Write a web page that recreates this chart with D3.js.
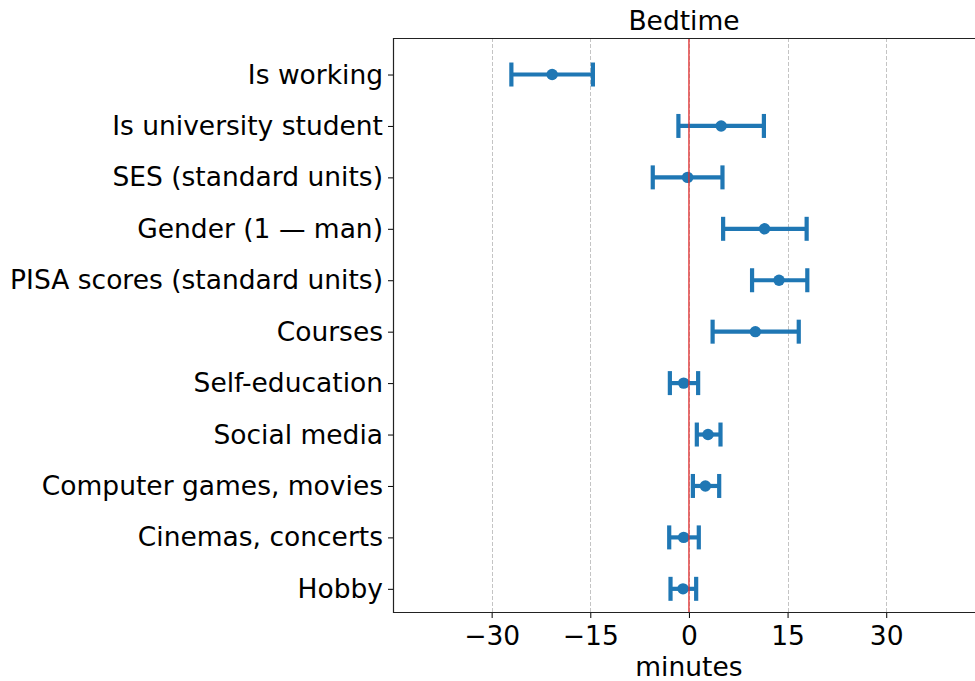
<!DOCTYPE html>
<html><head><meta charset="utf-8">
<script src="https://cdn.jsdelivr.net/npm/d3@7"></script>
<style>body{margin:0;background:#fff}svg{display:block}text{font-family:"DejaVu Sans",sans-serif;fill:#000}</style>
</head><body>
<svg id="c" width="975" height="681"></svg>
<script>
const categories = ["Is working","Is university student","SES (standard units)","Gender (1 \u2014 man)","PISA scores (standard units)","Courses","Self-education","Social media","Computer games, movies","Cinemas, concerts","Hobby"];
const estimates = [-20.8, 4.9, -0.2, 11.5, 13.7, 10.1, -0.8, 2.9, 2.5, -0.8, -0.9];
const lower = [-27.0, -1.6, -5.5, 5.2, 9.6, 3.6, -2.9, 1.2, 0.6, -3.0, -2.8];
const upper = [-14.6, 11.4, 5.1, 17.9, 18.0, 16.7, 1.4, 4.8, 4.6, 1.5, 1.1];
const xTicks = [-30, -15, 0, 15, 30];
const title = "Bedtime";
const xLabel = "minutes";

const svg = d3.select("#c");
const L = 393, R = 975, T = 38, B = 613;
const FS = 26.5;
const x = d3.scaleLinear().domain([-45, 43.5]).range([L, R]);
const y = d3.scaleLinear().domain([-0.71, 10.47]).range([T, B]);
const blue = "#1f77b4";

// grid
svg.append("g").selectAll("line").data(xTicks).join("line")
  .attr("x1", d => Math.round(x(d)) + 0.5).attr("x2", d => Math.round(x(d)) + 0.5)
  .attr("y1", T).attr("y2", B)
  .attr("stroke", "#c4c4c4").attr("stroke-width", 1).attr("stroke-dasharray", "4,2");

// error bars
const g = svg.append("g");
categories.forEach((c, i) => {
  const yy = y(i);
  g.append("line").attr("x1", x(lower[i])).attr("x2", x(upper[i])).attr("y1", yy).attr("y2", yy)
    .attr("stroke", blue).attr("stroke-width", 4.2);
  [lower[i], upper[i]].forEach(v => {
    g.append("line").attr("x1", x(v)).attr("x2", x(v)).attr("y1", yy - 12).attr("y2", yy + 12)
      .attr("stroke", blue).attr("stroke-width", 4.2);
  });
  g.append("circle").attr("cx", x(estimates[i])).attr("cy", yy).attr("r", 5.7).attr("fill", blue);
});

// red zero line
svg.append("line").attr("x1", x(0)).attr("x2", x(0)).attr("y1", T).attr("y2", B)
  .attr("stroke", "#e22a2a").attr("stroke-opacity", 0.85).attr("stroke-width", 1.5);

// axes
const xAxis = d3.axisBottom(x).tickValues(xTicks).tickSize(5).tickPadding(8)
  .tickFormat(d => d < 0 ? "\u2212" + Math.abs(d) : String(d));
const gx = svg.append("g").attr("transform", `translate(0,${B})`).call(xAxis);
gx.select(".domain").remove();
gx.selectAll(".tick line").attr("stroke", "#000").attr("stroke-width", 1);
gx.selectAll(".tick text").attr("font-size", FS).style("font-family", '"DejaVu Sans",sans-serif');

const yAxis = d3.axisLeft(y).tickValues(d3.range(categories.length)).tickSize(5).tickPadding(5)
  .tickFormat(i => categories[i]);
const gy = svg.append("g").attr("transform", `translate(${L},0)`).call(yAxis);
gy.select(".domain").remove();
gy.selectAll(".tick line").attr("stroke", "#000").attr("stroke-width", 1);
gy.selectAll(".tick text").attr("font-size", FS).style("font-family", '"DejaVu Sans",sans-serif');

// spines
svg.append("path").attr("d", `M${R},${T + 0.5}H${L + 0.5}V${B - 0.5}H${R}`)
  .attr("fill", "none").attr("stroke", "#222").attr("stroke-width", 1.2);

svg.append("text").attr("x", (L + R) / 2).attr("y", 30).attr("text-anchor", "middle")
  .attr("font-size", FS).text(title);
svg.append("text").attr("x", x(0)).attr("y", 676).attr("text-anchor", "middle")
  .attr("font-size", FS).text(xLabel);
</script>
</body></html>
